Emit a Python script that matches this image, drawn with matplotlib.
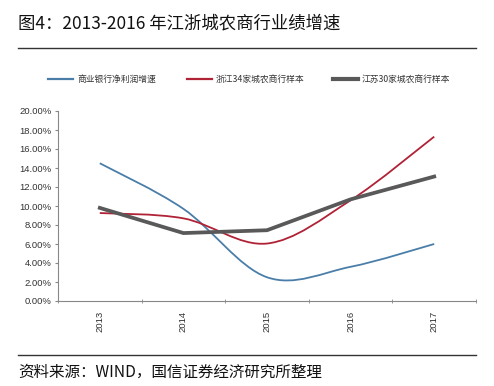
import matplotlib
matplotlib.use("Agg")
from matplotlib import pyplot as plt
from matplotlib.path import Path
from matplotlib.patches import PathPatch
from matplotlib.lines import Line2D
import numpy as np

plt.rcParams['font.family'] = ['Noto Sans CJK SC', 'DejaVu Sans']

years = ['2013', '2014', '2015', '2016', '2017']
bank_profit = [14.5, 9.7, 2.5, 3.6, 6.0]      # 商业银行净利润增速
zj_34 = [9.26, 8.7, 6.05, 10.6, 17.3]         # 浙江34家城农商行样本
js_30 = [9.8, 7.15, 7.45, 10.7, 13.1]         # 江苏30家城农商行样本
y_ticks = [0, 2, 4, 6, 8, 10, 12, 14, 16, 18, 20]

c_blue = '#4a7ea8'
c_red = '#b02236'
c_gray = '#595959'


def smooth_path(xs, ys):
    '''excel style smoothed line: bezier segments, catmull-rom tangents'''
    pts = np.column_stack([xs, ys]).astype(float)
    n = len(pts)
    verts = [pts[0]]
    codes = [Path.MOVETO]
    for i in range(n - 1):
        p0 = pts[i - 1] if i > 0 else pts[i]
        p1 = pts[i]
        p2 = pts[i + 1]
        p3 = pts[i + 2] if i + 2 < n else pts[i + 1]
        c1 = p1 + (p2 - p0) / 6
        c2 = p2 - (p3 - p1) / 6
        verts += [c1, c2, p2]
        codes += [Path.CURVE4] * 3
    return Path(verts, codes)


W, H = 494, 386
fig = plt.figure(figsize=(W / 100, H / 100), dpi=100)
ax = fig.add_axes([58 / W, (H - 301) / H, (476 - 58) / W, (301 - 111) / H])

x = np.arange(len(years))
ax.add_patch(PathPatch(smooth_path(x, bank_profit), facecolor='none',
                       edgecolor=c_blue, lw=1.3))
ax.add_patch(PathPatch(smooth_path(x, zj_34), facecolor='none',
                       edgecolor=c_red, lw=1.3))
ax.plot(x, js_30, color=c_gray, lw=2.7, solid_joinstyle='miter')

ax.set_xlim(-0.5, len(years) - 0.5)
ax.set_ylim(0, 20)
ax.set_yticks(y_ticks)
ax.set_yticklabels(['%.2f%%' % v for v in y_ticks], family='Liberation Sans',
                   fontsize=6.8, color='#333333')
ax.set_xticks(x)
ax.set_xticklabels(years, rotation=90, family='Liberation Sans',
                   fontsize=6.8, color='#333333')
ax.set_xticks(np.arange(-0.5, len(years)), minor=True)
ax.tick_params(axis='x', which='major', length=0, pad=7)
ax.tick_params(axis='x', which='minor', length=2.5, direction='inout',
               color='#888888')
ax.tick_params(axis='y', length=2.5, color='#888888', pad=2)
for s in ['top', 'right']:
    ax.spines[s].set_visible(False)
for s in ['left', 'bottom']:
    ax.spines[s].set_color('#888888')
    ax.spines[s].set_linewidth(0.8)

# legend, drawn by hand
leg = [('商业银行净利润增速', c_blue, 1.6, 48),
       ('浙江34家城农商行样本', c_red, 1.6, 187),
       ('江苏30家城农商行样本', c_gray, 3, 333)]
ly = 1 - 79 / H
for label, col, lw, lx in leg:
    fig.add_artist(Line2D([lx / W, (lx + 25) / W], [ly, ly], color=col, lw=lw))
    fig.text((lx + 29) / W, ly, label, fontsize=6.3, color='#333333',
             va='center', ha='left')

# title and source
fig.text(18 / W, 1 - 23 / H, '图4：2013-2016 年江浙城农商行业绩增速',
         fontsize=12.5, va='center', ha='left', color='#111111')
fig.add_artist(Line2D([18 / W, 476 / W], [1 - 48 / H, 1 - 48 / H],
                      color='#333333', lw=1))
fig.add_artist(Line2D([18 / W, 476 / W], [1 - 355 / H, 1 - 355 / H],
                      color='#333333', lw=1))
fig.text(18 / W, 1 - 372 / H, '资料来源：WIND，国信证券经济研究所整理',
         fontsize=11.2, va='center', ha='left', color='#111111')

fig.savefig('out.png', dpi=100)
